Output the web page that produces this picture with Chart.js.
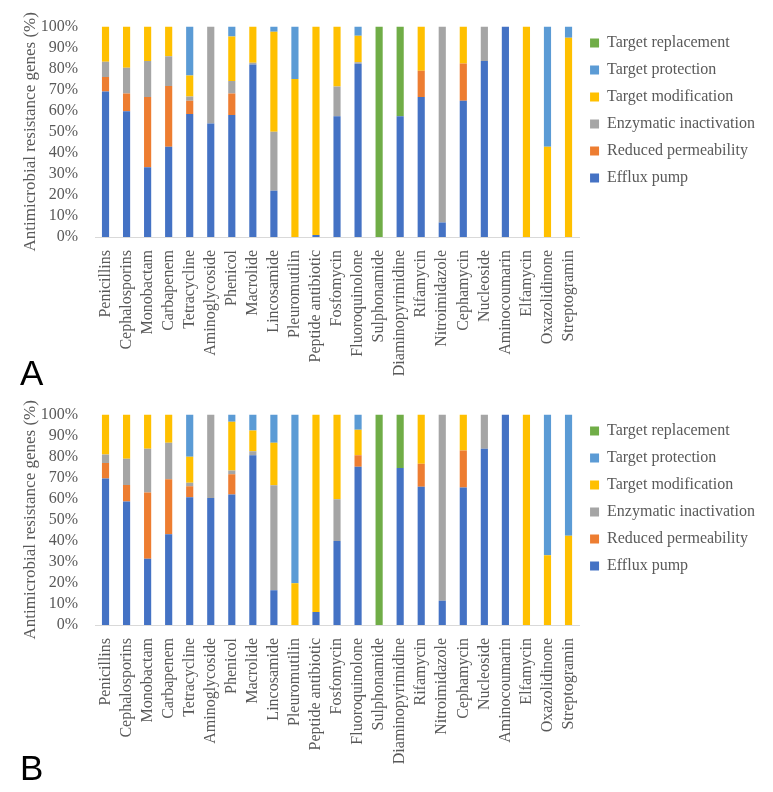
<!DOCTYPE html>
<html>
<head>
<meta charset="utf-8">
<script src="https://cdn.jsdelivr.net/npm/chart.js@4/dist/chart.umd.min.js"></script>
<style>
    body { margin: 0; background: #fff; }
    #wrap { position: relative; width: 773px; height: 792px; overflow: hidden; }
    .box { position: absolute; left: 0; width: 773px; height: 376px; }
    .letter { position: absolute; left: 20px; font-family: "Liberation Sans", Arial, sans-serif; font-size: 35px; color: #000; line-height: 1; }
</style>
</head>
<body>
<div id="wrap">
    <div class="box" style="top:0"><canvas id="chartA"></canvas></div>
    <div class="box" style="top:388px"><canvas id="chartB"></canvas></div>
    <div class="letter" style="top:355px">A</div>
    <div class="letter" style="top:750px">B</div>
</div>
<script>
var categories = ["Penicillins", "Cephalosporins", "Monobactam", "Carbapenem", "Tetracycline",
    "Aminoglycoside", "Phenicol", "Macrolide", "Lincosamide", "Pleuromutilin", "Peptide antibiotic",
    "Fosfomycin", "Fluoroquinolone", "Sulphonamide", "Diaminopyrimidine", "Rifamycin",
    "Nitroimidazole", "Cephamycin", "Nucleoside", "Aminocoumarin", "Elfamycin", "Oxazolidinone",
    "Streptogramin"];

var seriesNames = ["Efflux pump", "Reduced permeability", "Enzymatic inactivation",
    "Target modification", "Target protection", "Target replacement"];
var seriesColors = ["#4472C4", "#ED7D31", "#A5A5A5", "#FFC000", "#5B9BD5", "#70AD47"];

// chart A (%)
var effluxA       = [69.2, 59.8, 33.2, 42.9, 58.5, 54.0, 58.0, 82.0, 22.0, 0, 1.0, 57.4, 82.3, 0, 57.4, 66.5, 6.9, 64.8, 83.7, 100, 0, 0, 0];
var permeabilityA = [6.8, 8.4, 33.3, 28.9, 6.3, 0, 10.2, 0, 0, 0, 0, 0, 0, 0, 0, 12.5, 0, 17.7, 0, 0, 0, 0, 0];
var enzymaticA    = [7.3, 12.2, 17.1, 14.1, 2.0, 46.0, 6.0, 0.8, 28.0, 0, 0, 14.1, 0.8, 0, 0, 0, 93.1, 0, 16.3, 0, 0, 0, 0];
var modificationA = [16.7, 19.6, 16.4, 14.1, 9.9, 0, 21.1, 17.2, 47.6, 75.1, 99.0, 28.5, 12.5, 0, 0, 21.0, 0, 17.5, 0, 0, 100, 42.9, 94.7];
var protectionA   = [0, 0, 0, 0, 23.3, 0, 4.7, 0, 2.4, 24.9, 0, 0, 4.4, 0, 0, 0, 0, 0, 0, 0, 0, 57.1, 5.3];
var replacementA  = [0, 0, 0, 0, 0, 0, 0, 0, 0, 0, 0, 0, 0, 100, 42.6, 0, 0, 0, 0, 0, 0, 0, 0];

// chart B (%)
var effluxB       = [69.6, 58.7, 31.5, 43.1, 60.7, 60.4, 62.0, 80.7, 16.5, 0, 6.2, 39.9, 75.2, 0, 74.6, 65.7, 11.5, 65.3, 83.8, 100, 0, 0, 0];
var permeabilityB = [7.4, 7.8, 31.5, 26.2, 5.3, 0, 9.7, 0, 0, 0, 0, 0, 5.5, 0, 0, 10.9, 0, 17.6, 0, 0, 0, 0, 0];
var enzymaticB    = [4.0, 12.5, 20.8, 17.3, 1.6, 39.6, 1.7, 1.9, 49.9, 0, 0, 19.9, 0, 0, 0, 0, 88.5, 0, 16.2, 0, 0, 0, 0];
var modificationB = [19.0, 21.0, 16.2, 13.4, 12.4, 0, 23.2, 9.8, 20.2, 19.8, 93.8, 40.2, 12.1, 0, 0, 23.4, 0, 17.1, 0, 0, 100, 33.2, 42.4];
var protectionB   = [0, 0, 0, 0, 20.0, 0, 3.4, 7.6, 13.4, 80.2, 0, 0, 7.2, 0, 0, 0, 0, 0, 0, 0, 0, 66.8, 57.6];
var replacementB  = [0, 0, 0, 0, 0, 0, 0, 0, 0, 0, 0, 0, 0, 100, 25.4, 0, 0, 0, 0, 0, 0, 0, 0];

var yTicks = [0, 10, 20, 30, 40, 50, 60, 70, 80, 90, 100];

var serif = "'Liberation Serif', 'Times New Roman', serif";
var textColor = "#595959";

var drawChart = function(elementId, series) {
    var ctx = document.getElementById(elementId).getContext("2d");
    var datasets = [];
    for (var i = 0; i < series.length; i++) {
        datasets.push({
            label: seriesNames[i],
            data: series[i],
            backgroundColor: seriesColors[i],
            borderWidth: 0,
            categoryPercentage: 1,
            barPercentage: 0.34
        });
    }
    var config = {
        type: "bar",
        data: {
            labels: categories,
            datasets: datasets
        },
        options: {
            responsive: true,
            maintainAspectRatio: false,
            animation: false,
            layout: { padding: { top: 24, left: 20, right: 8, bottom: 0 } },
            plugins: {
                legend: {
                    position: "right",
                    align: "start",
                    reverse: true,
                    labels: {
                        boxWidth: 9,
                        boxHeight: 9,
                        padding: 11,
                        color: textColor,
                        font: { family: serif, size: 16 }
                    }
                },
                tooltip: { enabled: false }
            },
            scales: {
                x: {
                    stacked: true,
                    grid: { display: false },
                    border: { display: true, color: "#d9d9d9", width: 1 },
                    ticks: {
                        autoSkip: false,
                        minRotation: 90,
                        maxRotation: 90,
                        padding: 5,
                        color: textColor,
                        font: { family: serif, size: 16 }
                    },
                    afterFit: function(scale) { scale.height = 139; }
                },
                y: {
                    stacked: true,
                    min: 0,
                    max: 100,
                    grid: { display: false, drawTicks: false },
                    border: { display: false },
                    afterBuildTicks: function(scale) {
                        scale.ticks = yTicks.map(function(v) { return { value: v }; });
                    },
                    ticks: {
                        autoSkip: false,
                        padding: 17,
                        color: textColor,
                        font: { family: serif, size: 16 },
                        callback: function(v) { return v + "%"; }
                    },
                    title: {
                        display: true,
                        text: "Antimicrobial resistance genes (%)",
                        color: textColor,
                        padding: { top: 0, bottom: 0 },
                        font: { family: serif, size: 17 }
                    },
                    afterFit: function(scale) { scale.width = 75; }
                }
            }
        }
    };
    return new Chart(ctx, config);
};

drawChart("chartA", [effluxA, permeabilityA, enzymaticA, modificationA, protectionA, replacementA]);
drawChart("chartB", [effluxB, permeabilityB, enzymaticB, modificationB, protectionB, replacementB]);
</script>
</body>
</html>
